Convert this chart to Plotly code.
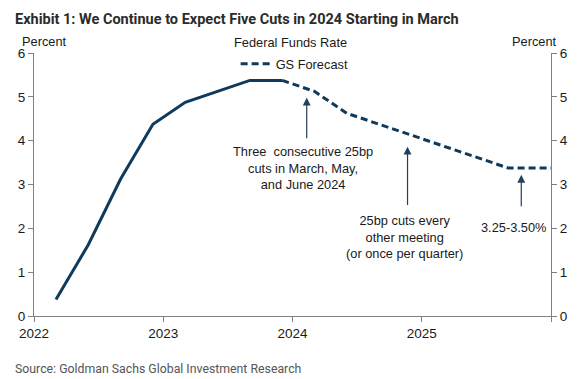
import plotly.graph_objects as go

# Data (year fraction, percent)
actual_x = [2022.17, 2022.42, 2022.67, 2022.92, 2023.17, 2023.42, 2023.67, 2023.92]
actual_y = [0.375, 1.625, 3.125, 4.375, 4.875, 5.125, 5.375, 5.375]
fcst_x = [2023.92, 2024.17, 2024.42, 2024.67, 2024.92, 2025.17, 2025.42, 2025.67, 2026.0]
fcst_y = [5.375, 5.125, 4.625, 4.375, 4.125, 3.875, 3.625, 3.375, 3.375]
x_tickvals = [2022, 2023, 2024, 2025, 2026]
x_ticktext = ["2022", "2023", "2024", "2025", ""]
y_ticks = [0, 1, 2, 3, 4, 5, 6]

NAVY = "#0f3a5c"
AX = "#808080"
FONT = "Liberation Sans, Arial, sans-serif"
TFONT = "Roboto, Liberation Sans, sans-serif"

fig = go.Figure()
fig.add_trace(go.Scatter(x=actual_x, y=actual_y, mode="lines",
                         line=dict(color=NAVY, width=3), showlegend=False,
                         name="Federal Funds Rate"))
fig.add_trace(go.Scatter(x=fcst_x, y=fcst_y, mode="lines", yaxis="y2",
                         line=dict(color=NAVY, width=3, dash="7px,4px"),
                         name="GS Forecast"))

axis_common = dict(showgrid=False, zeroline=False, showline=True, linecolor=AX,
                   linewidth=1, ticks="outside", ticklen=5, tickcolor=AX,
                   tickfont=dict(family=FONT, size=13.5, color="#1a1a1a"))

fig.update_layout(
    width=585, height=379,
    margin=dict(l=34, r=34, t=53, b=63),
    paper_bgcolor="white", plot_bgcolor="white",
    font=dict(family=FONT, size=12.8, color="#1a1a1a"),
    xaxis=dict(range=[2022, 2026], tickvals=x_tickvals, ticktext=x_ticktext,
               **axis_common),
    yaxis=dict(range=[0, 6], tickvals=y_ticks, **axis_common),
    yaxis2=dict(range=[0, 6], tickvals=y_ticks, overlaying="y", side="right",
                anchor="x", **axis_common),
    legend=dict(x=0.39, xanchor="left", y=0.958, yanchor="middle",
                bgcolor="rgba(0,0,0,0)", font=dict(family=FONT, size=12.8),
                itemwidth=30, tracegroupgap=0),
    showlegend=True,
)

ann = []
ann.append(dict(text="<b>Exhibit 1: We Continue to Expect Five Cuts in 2024 Starting in March</b>",
                xref="paper", yref="paper", x=-0.04, y=1.0, yanchor="middle",
                xanchor="left", yshift=34, showarrow=False,
                font=dict(family=TFONT, size=14.5, color="#2b2b2b")))
ann.append(dict(text="Source: Goldman Sachs Global Investment Research",
                xref="paper", yref="paper", x=-0.04, y=0, yanchor="middle",
                xanchor="left", yshift=-53, showarrow=False,
                font=dict(family=TFONT, size=12.3, color="#555555")))
ann.append(dict(text="Percent", xref="paper", yref="paper", x=-0.027, y=1.0,
                xanchor="left", yanchor="middle", yshift=12, showarrow=False))
ann.append(dict(text="Percent", xref="paper", yref="paper", x=1.015, y=1.0,
                xanchor="right", yanchor="middle", yshift=12, showarrow=False))
ann.append(dict(text="Federal Funds Rate", xref="paper", yref="paper", x=0.497, y=1.0,
                xanchor="center", yanchor="middle", yshift=11, showarrow=False))

# Arrows
arrows = [
    (2024.11, 4.98, 2024.11, 4.02),
    (2024.89, 3.86, 2024.89, 2.50),
    (2025.77, 3.22, 2025.77, 2.47),
]
for x, y, axx, ayy in arrows:
    ann.append(dict(x=x, y=y, ax=axx, ay=ayy, xref="x", yref="y", axref="x", ayref="y",
                    text="", showarrow=True, arrowhead=2, arrowsize=1.3, arrowwidth=1.2,
                    arrowcolor="#213f5e"))

ann.append(dict(text="Three  consecutive 25bp<br>cuts in March, May,<br>and June 2024",
                x=2024.08, y=3.38, xref="x", yref="y", showarrow=False,
                xanchor="center", yanchor="middle"))
ann.append(dict(text="25bp cuts every<br>other meeting<br>(or once per quarter)",
                x=2024.87, y=1.80, xref="x", yref="y", showarrow=False,
                xanchor="center", yanchor="middle"))
ann.append(dict(text="3.25-3.50%",
                x=2025.71, y=2.01, xref="x", yref="y", showarrow=False,
                xanchor="center", yanchor="middle"))

fig.update_layout(annotations=ann)
fig.write_html("out.html", config={"displayModeBar": False},
               post_script="document.body.style.margin='0';document.body.style.overflow='hidden';")
